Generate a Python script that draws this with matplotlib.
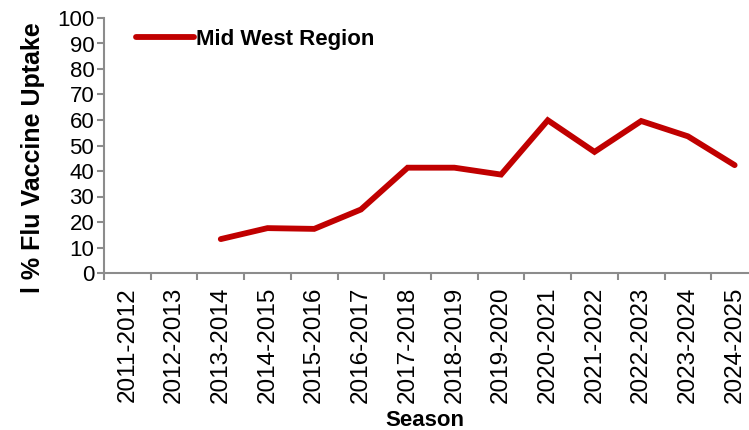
import matplotlib
matplotlib.use("Agg")
import matplotlib.pyplot as plt
import numpy as np

plt.rcParams['font.family'] = ['Liberation Sans', 'DejaVu Sans']

# Data
seasons = ['2011-2012', '2012-2013', '2013-2014', '2014-2015', '2015-2016',
           '2016-2017', '2017-2018', '2018-2019', '2019-2020', '2020-2021',
           '2021-2022', '2022-2023', '2023-2024', '2024-2025']
uptake = [np.nan, np.nan, 13.3, 17.6, 17.3, 24.9, 41.3, 41.3, 38.6, 59.9,
          47.5, 59.6, 53.6, 42.3]
series_name = 'Mid West Region'

fig = plt.figure(figsize=(7.49, 4.30), dpi=100)
ax = fig.add_axes([104/749, 157/430, 654/749, 255/430])

x = np.arange(len(seasons))
ax.plot(x, uptake, color='#C00000', linewidth=4.2, solid_capstyle='round',
        solid_joinstyle='miter', label=series_name)

ax.set_xlim(-0.5, len(seasons) - 0.5)
ax.set_ylim(0, 100)
ax.set_yticks(np.arange(0, 101, 10))
ax.set_xticks(x)
ax.set_xticklabels(seasons, rotation=90, fontsize=17.5)
ax.set_xticks(np.arange(-0.5, len(seasons), 1), minor=True)
ax.tick_params(axis='x', which='major', length=0, pad=10)
ax.tick_params(axis='x', which='minor', length=5, width=1.5, color='#8c8c8c', direction='out')
ax.tick_params(axis='y', length=5, width=1.5, color='#8c8c8c', labelsize=16, pad=2)

for s in ['top', 'right']:
    ax.spines[s].set_visible(False)
for s in ['left', 'bottom']:
    ax.spines[s].set_color('#8c8c8c')
    ax.spines[s].set_linewidth(1.5)

fig.text(33/749, 1 - 158/430, 'l % Flu Vaccine Uptake', rotation=90, fontsize=18,
         fontweight='bold', ha='center', va='center')
fig.text(425/749, 1 - 421/430, 'Season', fontsize=16, fontweight='bold',
         ha='center', va='center', family=['Liberation Sans Narrow', 'Liberation Sans'])

leg = ax.legend(loc='upper left', bbox_to_anchor=(0.018, 1.035), frameon=False,
                handlelength=2.6, handletextpad=0.1,
                prop={'weight': 'bold', 'size': 16})

fig.savefig('out.png', dpi=100)
